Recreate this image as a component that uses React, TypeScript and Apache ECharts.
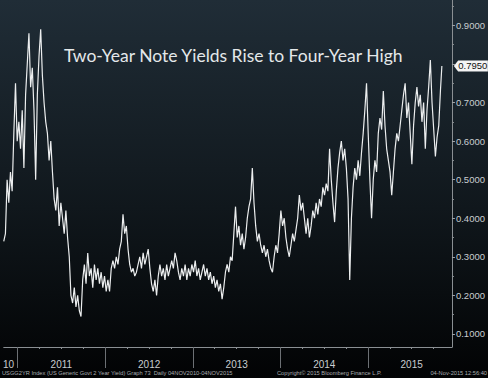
import React, { useEffect, useRef } from "react";
import * as echarts from "echarts";

const DAY = 86400000;
const startDate = Date.UTC(2010, 10, 4);
const endDate = Date.UTC(2015, 10, 4);

// weekly 2-year yield readings (%), Nov 4 2010 .. Nov 4 2015
const yieldValues = [
  0.34, 0.36, 0.50, 0.44, 0.52, 0.47, 0.62, 0.75, 0.60, 0.65,
  0.58, 0.68, 0.53, 0.72, 0.80, 0.88, 0.74, 0.79, 0.68, 0.50,
  0.72, 0.82, 0.89, 0.77, 0.70, 0.65, 0.62, 0.55, 0.60, 0.52,
  0.45, 0.42, 0.48, 0.38, 0.44, 0.40, 0.36, 0.42, 0.35, 0.30,
  0.20, 0.18, 0.22, 0.17, 0.20, 0.16, 0.145, 0.24, 0.28, 0.23,
  0.31, 0.25, 0.27, 0.22, 0.28, 0.24, 0.27, 0.23, 0.26, 0.22,
  0.25, 0.21, 0.24, 0.21, 0.27, 0.29, 0.27, 0.30, 0.28, 0.32,
  0.34, 0.41, 0.36, 0.38, 0.32, 0.28, 0.26, 0.27, 0.25, 0.26,
  0.28, 0.30, 0.27, 0.31, 0.28, 0.30, 0.32, 0.27, 0.23, 0.21,
  0.24, 0.20, 0.25, 0.28, 0.25, 0.27, 0.24, 0.28, 0.25, 0.27,
  0.29, 0.27, 0.31, 0.29, 0.26, 0.24, 0.27, 0.25, 0.28, 0.24,
  0.27, 0.25, 0.28, 0.26, 0.29, 0.25, 0.27, 0.24, 0.26, 0.28,
  0.25, 0.27, 0.24, 0.26, 0.23, 0.25, 0.22, 0.24, 0.21, 0.23,
  0.19, 0.22, 0.26, 0.28, 0.26, 0.30, 0.29, 0.36, 0.43, 0.35,
  0.38, 0.33, 0.36, 0.32, 0.35, 0.40, 0.43, 0.45, 0.53, 0.44,
  0.38, 0.34, 0.36, 0.33, 0.31, 0.33, 0.30, 0.32, 0.29, 0.27,
  0.26, 0.30, 0.33, 0.31, 0.36, 0.42, 0.38, 0.40, 0.35, 0.32,
  0.30, 0.33, 0.36, 0.34, 0.37, 0.40, 0.46, 0.42, 0.44, 0.40,
  0.36, 0.40, 0.35, 0.38, 0.42, 0.40, 0.44, 0.41, 0.45, 0.43,
  0.48, 0.46, 0.49, 0.47, 0.58, 0.50, 0.44, 0.39, 0.47, 0.53,
  0.57, 0.60, 0.55, 0.58, 0.53, 0.45, 0.24, 0.40, 0.48, 0.53,
  0.50, 0.55, 0.51, 0.57, 0.62, 0.68, 0.75, 0.62, 0.50, 0.40,
  0.50, 0.55, 0.52, 0.62, 0.66, 0.63, 0.73, 0.64, 0.58, 0.55,
  0.52, 0.46, 0.52, 0.58, 0.62, 0.60, 0.64, 0.68, 0.72, 0.75,
  0.66, 0.70, 0.62, 0.54, 0.64, 0.70, 0.74, 0.69, 0.72, 0.65,
  0.70, 0.58, 0.68, 0.74, 0.81, 0.70, 0.63, 0.56, 0.61, 0.64,
  0.73, 0.795,
];

const yearTickDates = ["2011-01-01", "2012-01-01", "2013-01-01", "2014-01-01", "2015-01-01"];
const yearLabelDates = ["2010-11-24", "2011-07-02", "2012-07-02", "2013-07-02", "2014-07-02", "2015-07-01"];
const yearLabelTexts = ["10", "2011", "2012", "2013", "2014", "2015"];
const quarterTickDates = [
  "2011-04-01", "2011-07-01", "2011-10-01",
  "2012-04-01", "2012-07-01", "2012-10-01",
  "2013-04-01", "2013-07-01", "2013-10-01",
  "2014-04-01", "2014-07-01", "2014-10-01",
  "2015-04-01", "2015-07-01", "2015-10-01",
];
const yTickValues = [0.1, 0.2, 0.3, 0.4, 0.5, 0.6, 0.7, 0.8, 0.9];
// 0.8000 is covered by the last-value tag in the reference
const yLabelValues = [0.1, 0.2, 0.3, 0.4, 0.5, 0.6, 0.7, 0.9];
const yMinorTickValues = [0.15, 0.25, 0.35, 0.45, 0.55, 0.65, 0.75, 0.85, 0.95];

const titleText = "Two-Year Note Yields Rise to Four-Year High";
const footerLeft = "USGG2YR Index (US Generic Govt 2 Year Yield) Graph 73  Daily 04NOV2010-04NOV2015";
const footerMid = "Copyright\u00A9 2015 Bloomberg Finance L.P.";
const footerRight = "04-Nov-2015 12:56:40";

const ts = (s: string) => Date.parse(s + "T00:00:00Z");

export default function App() {
  const ref = useRef<HTMLDivElement>(null);
  useEffect(() => {
    if (!ref.current) return;
    const chart = echarts.init(ref.current, undefined, { renderer: "svg" });
    const data = yieldValues.map((v, i) => [Math.min(startDate + i * 7 * DAY, endDate), v]);
    const last = data[data.length - 1];
    const labelTs = yearLabelDates.map(ts);
    const xMin = startDate;
    const xMax = startDate + 1868 * DAY;
    const font = "Liberation Sans";
    chart.setOption({
      animation: false,
      backgroundColor: new echarts.graphic.LinearGradient(0, 0, 0, 1, [
        { offset: 0, color: "#202d37" },
        { offset: 0.55, color: "#10171c" },
        { offset: 1, color: "#020304" },
      ]),
      title: {
        text: titleText,
        left: 64,
        top: 46,
        padding: 0,
        textStyle: { color: "#e4e8ea", fontSize: 17.5, fontWeight: "normal", fontFamily: "Lato" },
      },
      grid: { left: -1, top: 0, width: 454, height: 347 },
      xAxis: [
        {
          type: "value",
          min: xMin,
          max: xMax,
          position: "bottom",
          axisLine: { show: true, onZero: false, lineStyle: { color: "#8a8f93", width: 1 } },
          axisTick: {
            show: true,
            customValues: yearTickDates.map(ts),
            length: 21,
            lineStyle: { color: "#6c7074", width: 1 },
          },
          axisLabel: {
            show: true,
            customValues: labelTs,
            formatter: (v: number) => {
              const idx = labelTs.findIndex((t) => Math.abs(t - v) < DAY);
              return idx >= 0 ? yearLabelTexts[idx] : "";
            },
            color: "#c9cdd0",
            fontSize: 10,
            fontFamily: font,
            margin: 12,
            hideOverlap: false,
          },
          splitLine: { show: false },
        },
        {
          type: "value",
          min: xMin,
          max: xMax,
          position: "bottom",
          axisLine: { show: false, onZero: false },
          axisTick: {
            show: true,
            customValues: quarterTickDates.map(ts),
            length: 2,
            lineStyle: { color: "#8a8f93", width: 1 },
          },
          axisLabel: { show: false },
          splitLine: { show: false },
        },
      ],
      yAxis: [
        {
          type: "value",
          position: "right",
          min: 0.066,
          max: 0.966,
          axisLine: { show: true, onZero: false, lineStyle: { color: "#8a8f93", width: 1 } },
          axisTick: {
            show: true,
            customValues: yTickValues,
            length: 3,
            lineStyle: { color: "#a0a4a8", width: 1 },
          },
          axisLabel: {
            show: true,
            customValues: yLabelValues,
            formatter: (v: number) => v.toFixed(4),
            color: "#c9cdd0",
            fontSize: 9.5,
            fontFamily: font,
            margin: 4,
          },
          splitLine: { show: false },
        },
        {
          type: "value",
          position: "right",
          min: 0.066,
          max: 0.966,
          axisLine: { show: false, onZero: false },
          axisTick: {
            show: true,
            customValues: yMinorTickValues,
            length: 2,
            lineStyle: { color: "#8a8f93", width: 1 },
          },
          axisLabel: { show: false },
          splitLine: { show: false },
        },
      ],
      series: [
        {
          type: "line",
          data,
          xAxisIndex: 0,
          yAxisIndex: 0,
          showSymbol: false,
          symbol: "none",
          lineStyle: { color: "#eceeef", width: 1.2 },
          markPoint: {
            silent: true,
            data: [
              {
                coord: last,
                symbol: "path://M0,6 L5,0 L40,0 L40,12 L5,12 Z",
                symbolSize: [34, 11],
                symbolKeepAspect: false,
                symbolOffset: [29, 0],
                itemStyle: { color: "#f4f4f4" },
                label: {
                  show: true,
                  position: "inside",
                  offset: [2, 0],
                  formatter: () => (last[1] as number).toFixed(4),
                  color: "#111",
                  fontSize: 9.5,
                  fontFamily: font,
                },
              },
            ],
          },
        },
      ],
      graphic: [
        {
          type: "text",
          left: 2,
          top: 370,
          style: { text: footerLeft, fill: "#a9adb0", fontSize: 5.7, fontFamily: font },
        },
        {
          type: "text",
          left: 277,
          top: 370,
          style: { text: footerMid, fill: "#a9adb0", fontSize: 5.7, fontFamily: font },
        },
        {
          type: "text",
          right: 1,
          top: 370,
          style: { text: footerRight, fill: "#a9adb0", fontSize: 5.7, fontFamily: font },
        },
      ],
    });
    return () => chart.dispose();
  }, []);
  return (
    <div
      ref={ref}
      style={{ position: "fixed", left: 0, top: 0, width: 488, height: 378 }}
    />
  );
}
